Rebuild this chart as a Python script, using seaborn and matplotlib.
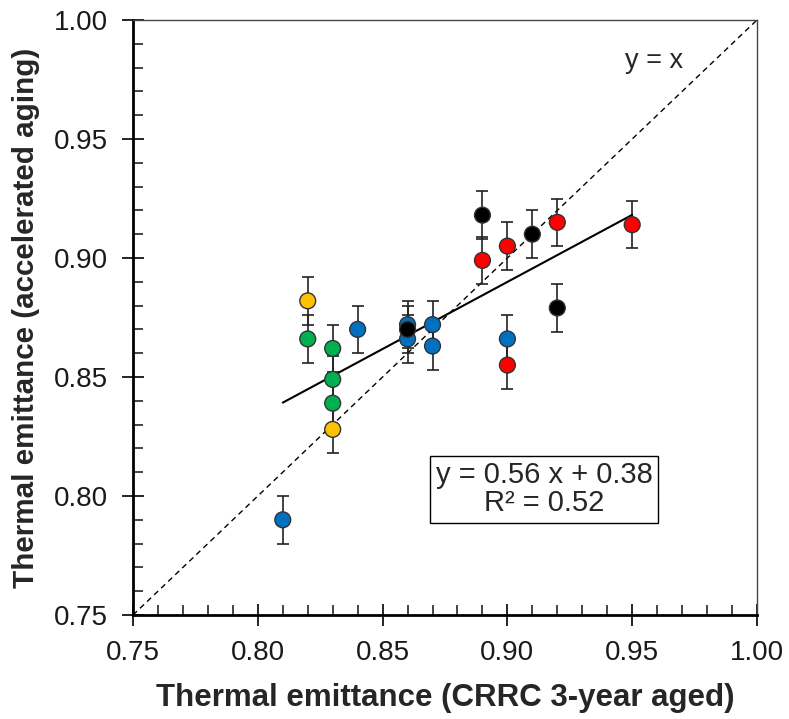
import numpy as np
import pandas as pd
import matplotlib
matplotlib.use("Agg")
import matplotlib.pyplot as plt
from matplotlib.ticker import MultipleLocator, FormatStrFormatter
import seaborn as sns

sns.set_theme(style="white")
plt.rcParams['font.family'] = ['Liberation Sans', 'DejaVu Sans']

# data
x_vals = [0.81, 0.82, 0.82, 0.83, 0.83, 0.83, 0.83, 0.84, 0.86, 0.86, 0.86,
          0.87, 0.87, 0.89, 0.89, 0.90, 0.90, 0.90, 0.91, 0.92, 0.92, 0.95]
y_vals = [0.790, 0.882, 0.866, 0.862, 0.849, 0.839, 0.828, 0.870, 0.872, 0.866, 0.870,
          0.872, 0.863, 0.918, 0.899, 0.905, 0.866, 0.855, 0.910, 0.915, 0.879, 0.914]
groups = ["blue", "yellow", "green", "green", "green", "green", "yellow", "blue", "blue", "blue", "black",
          "blue", "blue", "black", "red", "red", "blue", "red", "black", "red", "black", "red"]
y_err = 0.01
fit_label = "y = 0.56 x + 0.38\nR² = 0.52"
palette = {"blue": "#0070C0", "green": "#00B050", "yellow": "#FFC000",
           "red": "#FF0000", "black": "#000000"}

df = pd.DataFrame({"x": x_vals, "y": y_vals, "g": groups})

fig = plt.figure(figsize=(7.89, 7.19), dpi=100)
ax = fig.add_axes([133/789, 1 - 615/719, 624/789, 595/719])

# y = x line
ax.plot([0.75, 1.0], [0.75, 1.0], ls=(0, (4, 3)), color="black", lw=1, zorder=1)

# error bars
ax.errorbar(df["x"], df["y"], yerr=y_err, fmt="none", ecolor="#222222",
            elinewidth=1.2, capsize=4, capthick=1.2, zorder=2)

# fit line
slope, intercept = np.polyfit(df["x"], df["y"], 1)
xs = np.array([min(x_vals), max(x_vals)])
ax.plot(xs, slope * xs + intercept, color="black", lw=1.5, zorder=3)

sns.scatterplot(data=df, x="x", y="y", hue="g", palette=palette, s=130,
                edgecolor="#333333", linewidth=1, legend=False, ax=ax, zorder=4)

ax.set_xlim(0.75, 1.0)
ax.set_ylim(0.75, 1.0)
ax.xaxis.set_major_locator(MultipleLocator(0.05))
ax.yaxis.set_major_locator(MultipleLocator(0.05))
ax.xaxis.set_minor_locator(MultipleLocator(0.01))
ax.yaxis.set_minor_locator(MultipleLocator(0.01))
ax.xaxis.set_major_formatter(FormatStrFormatter("%.2f"))
ax.yaxis.set_major_formatter(FormatStrFormatter("%.2f"))
ax.tick_params(which="major", direction="inout", length=16, width=1.2,
               labelsize=20, colors="black", bottom=True, left=True, top=False, right=False)
ax.tick_params(axis="x", which="major", pad=10)
ax.tick_params(axis="y", which="major", pad=10)
ax.tick_params(which="minor", direction="in", length=7, width=1.2,
               bottom=True, left=True, top=False, right=False)
for lbl in ax.get_xticklabels() + ax.get_yticklabels():
    lbl.set_color("#1a1a1a")

for s in ["left", "bottom"]:
    ax.spines[s].set_linewidth(2)
    ax.spines[s].set_color("black")
for s in ["top", "right"]:
    ax.spines[s].set_linewidth(1)
    ax.spines[s].set_color("#444444")

ax.set_xlabel("Thermal emittance (CRRC 3-year aged)", fontsize=22.5, fontweight="bold", labelpad=12)
ax.set_ylabel("Thermal emittance (accelerated aging)", fontsize=21.3, fontweight="bold", labelpad=10)

ax.text(0.9587, 0.9828, "y = x", fontsize=19.5, ha="center", va="center")
ax.text(0.9147, 0.8028, fit_label, fontsize=21, ha="center", va="center", linespacing=1.0,
        bbox=dict(boxstyle="square,pad=0.2", facecolor="white", edgecolor="black", lw=1))

fig.savefig("out.png", dpi=100)
